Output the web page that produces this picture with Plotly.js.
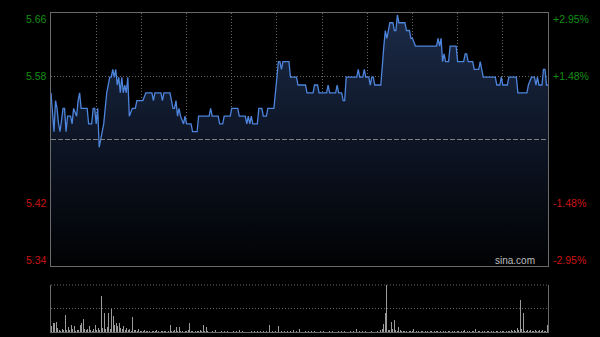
<!DOCTYPE html>
<html>
<head>
<meta charset="utf-8">
<script src="https://cdn.plot.ly/plotly-3.0.1.min.js"></script>
<style>
html,body{margin:0;padding:0;background:#000;}
#chart{width:600px;height:337px;}
</style>
</head>
<body>
<div id="chart"></div>
<script>
// ---- data (minutes since open, HK session 330 min) ----
const priceMinutes = [0,1,2,3,4,5,6,8,9,10,11,13,14,15,17,18,19,20,24,25,27,28,29,30,31,32,33,34,35,36,37,39,40,41,42,43,44,45,46,47,48,49,50,51,52,54,56,57,61,63,67,68,69,73,74,75,79,81,82,83,84,85,86,88,89,90,93,94,97,98,105,106,107,111,112,114,115,119,120,124,125,129,130,131,132,133,134,137,138,140,141,143,144,148,149,151,152,153,154,158,159,163,164,169,170,174,175,177,178,183,184,185,189,190,191,193,194,195,196,203,204,205,207,208,209,211,212,213,214,215,219,220,221,222,223,224,225,227,228,229,230,231,235,236,238,239,240,242,256,257,258,259,260,261,262,264,265,269,270,274,275,276,277,280,281,284,285,287,295,296,298,299,300,303,304,309,310,316,317,319,321,322,323,324,326,327,328,329,330];
const prices = [5.56,5.53,5.51,5.55,5.54,5.52,5.51,5.54,5.54,5.51,5.53,5.53,5.52,5.54,5.53,5.55,5.56,5.54,5.54,5.52,5.52,5.54,5.54,5.52,5.54,5.49,5.50,5.51,5.52,5.54,5.56,5.58,5.58,5.59,5.58,5.59,5.57,5.58,5.56,5.58,5.56,5.57,5.56,5.58,5.53,5.54,5.54,5.55,5.55,5.56,5.56,5.55,5.56,5.56,5.55,5.56,5.56,5.54,5.54,5.55,5.53,5.54,5.53,5.52,5.53,5.52,5.52,5.51,5.51,5.53,5.53,5.54,5.53,5.53,5.52,5.52,5.53,5.53,5.54,5.54,5.53,5.53,5.52,5.53,5.52,5.53,5.52,5.52,5.54,5.54,5.53,5.53,5.54,5.54,5.56,5.60,5.60,5.59,5.60,5.60,5.58,5.58,5.57,5.57,5.56,5.56,5.57,5.57,5.56,5.56,5.57,5.56,5.56,5.57,5.56,5.56,5.55,5.55,5.58,5.58,5.59,5.58,5.58,5.59,5.58,5.58,5.57,5.58,5.58,5.57,5.57,5.60,5.62,5.64,5.63,5.64,5.65,5.65,5.64,5.64,5.66,5.65,5.65,5.64,5.64,5.63,5.63,5.62,5.62,5.63,5.62,5.63,5.60,5.61,5.60,5.60,5.62,5.62,5.60,5.60,5.61,5.61,5.60,5.60,5.59,5.59,5.60,5.58,5.58,5.57,5.57,5.58,5.57,5.57,5.58,5.58,5.56,5.56,5.57,5.58,5.58,5.57,5.58,5.57,5.57,5.59,5.59,5.57,5.57];
const volumes = [
12,19,20,21,8,5,3,6,4,36,
5,10,4,14,6,12,3,5,4,14,
20,27,6,4,7,12,5,3,6,14,
5,8,4,77,9,41,6,10,41,7,
48,33,15,20,13,19,8,6,12,5,
8,4,6,3,31,5,4,3,6,2,
3,2,4,2,3,2,1,3,2,2,
4,2,1,3,2,2,3,1,2,15,
2,3,4,10,2,11,3,2,1,3,
2,4,20,2,3,1,2,3,2,4,
2,15,3,10,2,1,3,2,2,4,
2,1,3,2,6,2,1,2,3,1,
2,3,1,2,2,5,1,2,3,1,
2,1,3,2,1,2,3,2,6,2,
1,2,3,2,1,15,2,3,1,2,
4,12,2,3,1,2,13,2,1,3,
2,5,1,2,3,7,2,1,2,3,
9,2,1,3,2,2,7,1,2,3,
1,2,2,1,3,2,1,2,2,1,
3,2,1,2,2,3,6,1,2,2,
1,3,2,7,1,2,3,2,1,2,
2,1,3,2,2,1,5,2,3,4,
6,17,41,100,5,4,22,6,26,4,
3,10,5,3,2,2,3,1,2,2,
3,6,1,2,2,1,3,2,1,2,
2,1,3,2,1,2,2,3,1,2,
1,2,2,1,3,2,1,2,2,1,
3,2,1,2,2,5,1,2,3,1,
2,2,6,1,2,3,1,2,2,1,
2,3,1,2,2,1,3,2,1,2,
3,2,1,2,2,3,5,2,4,3,
8,4,68,6,41,3,2,4,3,5,
2,3,5,2,3,5,2,4,3,2,
15];
const prevClose = 5.50;
const leftLabels = ['5.66','5.58','5.42','5.34'];
const rightLabels = ['+2.95%','+1.48%','-1.48%','-2.95%'];
const watermark = 'sina.com';

// ---- layout helpers ----
const half = 0.1625;
const yMin = prevClose - half, yMax = prevClose + half;
const labelVals = [yMax, prevClose + half/2, prevClose - half/2, yMin];
const labelShift = [-6, 0, 0, 6];
const labelColor = ['#138f13','#138f13','#cc1414','#cc1414'];
const volMinutes = volumes.map((v,i)=>i);
const volMax = 100;

const traces = [
  {
    type:'scatter', mode:'lines', x:priceMinutes, y:prices, xaxis:'x', yaxis:'y',
    line:{color:'#4d84dc', width:1.3},
    fill:'tozeroy',
    fillgradient:{type:'vertical', start:yMin, stop:yMax,
      colorscale:[[0,'#010203'],[0.45,'#0c1322'],[1,'#1c2b48']]},
    hoverinfo:'skip'
  },
  {
    type:'bar', x:volMinutes, y:volumes, xaxis:'x2', yaxis:'y2',
    width:0.55, marker:{color:'#9a9a9a', line:{width:0}}, hoverinfo:'skip'
  }
];

const annotations = [];
const fontFam = 'Liberation Sans, Arial, sans-serif';
labelVals.forEach((v,i)=>{
  annotations.push({xref:'paper', yref:'y', x:0, y:v, xanchor:'right', yanchor:'middle',
    xshift:-2, yshift:labelShift[i], showarrow:false, text:leftLabels[i],
    font:{family:fontFam, size:10.5, color:labelColor[i]}});
  annotations.push({xref:'paper', yref:'y', x:1, y:v, xanchor:'left', yanchor:'middle',
    xshift:3, yshift:labelShift[i], showarrow:false, text:rightLabels[i],
    font:{family:fontFam, size:10.5, color:labelColor[i]}});
});
annotations.push({xref:'x domain', yref:'y domain', x:0.978, y:0.02, xanchor:'right', yanchor:'middle',
  showarrow:false, text:watermark, font:{family:fontFam, size:10, color:'#bdbdbd'}});

const mainBottom = (332-266)/319;
const volTop = (332-285)/319;
const gridDash = '1px,2px';
const gridCol = '#666';

const layout = {
  width:600, height:337,
  paper_bgcolor:'#000', plot_bgcolor:'#000',
  margin:{l:51, r:52, t:13, b:5, pad:0},
  showlegend:false,
  bargap:0,
  xaxis:{domain:[0,1], range:[0,330], anchor:'y', showgrid:true, tick0:0, dtick:30,
    gridcolor:gridCol, griddash:gridDash, gridwidth:1, showticklabels:false, ticks:'',
    showline:true, mirror:true, linecolor:'#6a6a6a', linewidth:1, zeroline:false, fixedrange:true},
  yaxis:{domain:[mainBottom,1], range:[yMin,yMax], anchor:'x',
    tickmode:'array', tickvals:[prevClose-half/2, prevClose+half/2],
    showgrid:true, gridcolor:gridCol, griddash:gridDash, gridwidth:1,
    showticklabels:false, ticks:'', showline:true, mirror:true, linecolor:'#6a6a6a', linewidth:1,
    zeroline:false, fixedrange:true},
  xaxis2:{domain:[0,1], range:[-0.5,330.5], anchor:'y2', showgrid:false, showticklabels:false,
    ticks:'', showline:true, mirror:false, linecolor:'#6a6a6a', linewidth:1, zeroline:false},
  yaxis2:{domain:[0,volTop], range:[0,volMax], anchor:'x2', tickmode:'array', tickvals:[volMax/2],
    showgrid:true, gridcolor:gridCol, griddash:gridDash, gridwidth:1, showticklabels:false, ticks:'',
    showline:true, mirror:true, linecolor:'#6a6a6a', linewidth:1, zeroline:false},
  shapes:[
    {type:'line', xref:'x domain', yref:'y', x0:0, x1:1, y0:prevClose, y1:prevClose,
     line:{color:'#808080', width:1, dash:'5px,2px'}},
    {type:'line', xref:'x2 domain', yref:'y2 domain', x0:0, x1:1, y0:1, y1:1,
     line:{color:gridCol, width:1, dash:gridDash}}
  ],
  annotations:annotations
};

Plotly.newPlot('chart', traces, layout, {displayModeBar:false, staticPlot:true});
</script>
</body>
</html>
